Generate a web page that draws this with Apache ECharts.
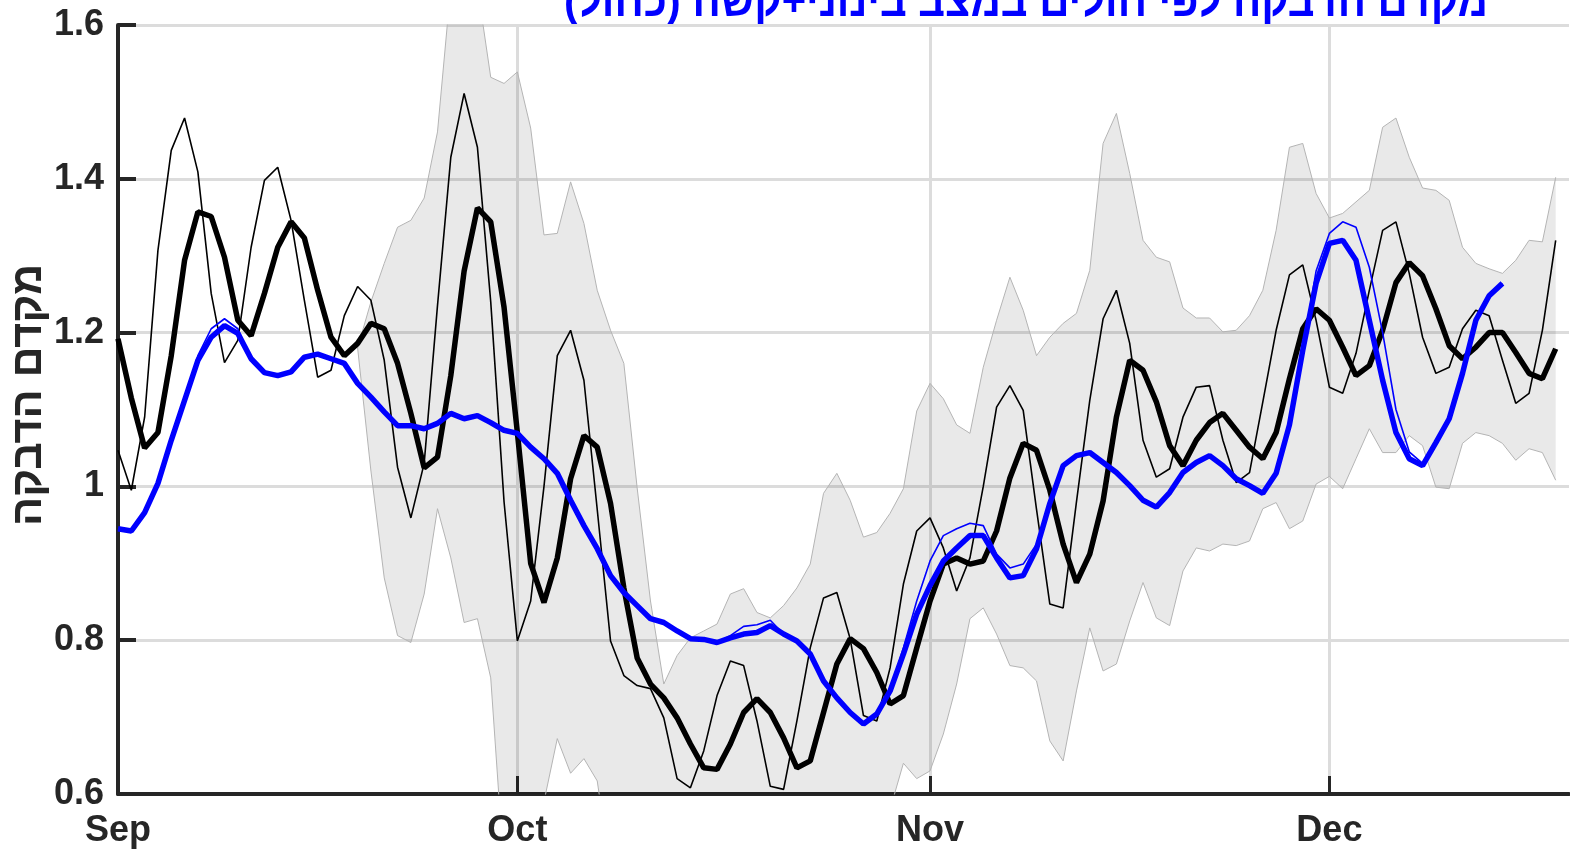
<!DOCTYPE html>
<html><head><meta charset="utf-8">
<script src="https://cdn.jsdelivr.net/npm/echarts@6/dist/echarts.min.js"></script>
<style>html,body{margin:0;padding:0;background:#fff}#c{width:1570px;height:849px}</style>
</head><body><div id="c"></div>
<script>
// ---- data (daily, Sep 1 .. Dec 18, 2020) ----
const startYear = 2020, startMonth = 8, startDay = 1; // Sep 1
const axisDays = 110; // Sep 1 .. Dec 19
const monthNames = ['Jan','Feb','Mar','Apr','May','Jun','Jul','Aug','Sep','Oct','Nov','Dec'];
const titleText = '\u200Fמקדם הדבקה לפי חולים במצב בינוני+קשה (כחול)\u200F';
const yAxisTitle = 'מקדם הדבקה';
const yMin = 0.6, yMax = 1.6, yStep = 0.2;

const smoothBlack = [
1.192,1.115,1.050,1.070,1.170,1.294,1.357,1.351,1.298,1.216,
1.196,1.251,1.311,1.344,1.323,1.255,1.194,1.170,1.186,1.212,
1.205,1.160,1.095,1.024,1.038,1.144,1.280,1.362,1.344,1.233,
1.070,0.900,0.849,0.907,1.010,1.066,1.051,0.978,0.868,0.777,
0.743,0.725,0.699,0.665,0.634,0.632,0.665,0.706,0.724,0.706,
0.673,0.634,0.643,0.706,0.769,0.802,0.789,0.758,0.717,0.728,
0.790,0.851,0.899,0.907,0.899,0.903,0.942,1.011,1.056,1.047,
0.995,0.925,0.875,0.912,0.981,1.090,1.164,1.151,1.110,1.053,
1.027,1.060,1.083,1.095,1.073,1.051,1.036,1.070,1.140,1.205,
1.231,1.216,1.181,1.144,1.157,1.203,1.265,1.291,1.274,1.231,
1.183,1.166,1.181,1.200,1.200,1.174,1.147,1.140,1.179];

const dailyBlack = [
1.047,0.995,1.090,1.307,1.437,1.479,1.409,1.251,1.161,1.190,
1.311,1.398,1.415,1.346,1.242,1.142,1.151,1.222,1.260,1.242,
1.164,1.025,0.959,1.030,1.235,1.428,1.511,1.441,1.240,0.980,
0.799,0.851,1.000,1.170,1.203,1.138,0.970,0.799,0.754,0.741,
0.737,0.699,0.620,0.608,0.656,0.728,0.773,0.767,0.695,0.610,
0.606,0.695,0.790,0.855,0.862,0.802,0.702,0.695,0.764,0.873,
0.942,0.959,0.920,0.864,0.907,1.000,1.103,1.131,1.099,0.970,
0.847,0.842,0.980,1.112,1.218,1.255,1.186,1.060,1.012,1.023,
1.090,1.129,1.131,1.060,1.005,1.018,1.110,1.203,1.275,1.288,
1.216,1.129,1.121,1.173,1.255,1.333,1.344,1.277,1.194,1.147,
1.155,1.205,1.229,1.222,1.164,1.108,1.121,1.203,1.320];

const smoothBlue = [
0.945,0.942,0.966,1.004,1.060,1.112,1.164,1.194,1.209,1.199,
1.166,1.148,1.144,1.149,1.168,1.172,1.166,1.160,1.134,1.116,
1.097,1.079,1.079,1.075,1.082,1.095,1.088,1.092,1.083,1.073,
1.069,1.051,1.036,1.017,0.982,0.949,0.919,0.884,0.862,0.845,
0.828,0.823,0.812,0.802,0.801,0.797,0.803,0.808,0.810,0.819,
0.808,0.799,0.782,0.747,0.725,0.706,0.691,0.704,0.734,0.782,
0.834,0.871,0.903,0.920,0.936,0.936,0.907,0.881,0.884,0.919,
0.978,1.027,1.040,1.044,1.031,1.018,1.001,0.982,0.973,0.992,
1.018,1.031,1.040,1.027,1.010,1.001,0.991,1.017,1.080,1.177,
1.264,1.316,1.320,1.294,1.216,1.138,1.070,1.036,1.027,1.057,
1.088,1.147,1.216,1.248,1.264];

const dailyBlue = [
0.945,0.942,0.966,1.004,1.060,1.112,1.170,1.205,1.218,1.205,
1.166,1.148,1.144,1.149,1.168,1.172,1.166,1.160,1.134,1.116,
1.097,1.079,1.079,1.075,1.082,1.095,1.088,1.092,1.083,1.073,
1.069,1.051,1.036,1.017,0.982,0.949,0.919,0.884,0.862,0.845,
0.828,0.823,0.812,0.802,0.801,0.797,0.806,0.818,0.820,0.826,
0.808,0.799,0.782,0.747,0.725,0.706,0.691,0.704,0.734,0.790,
0.851,0.903,0.936,0.945,0.952,0.949,0.912,0.894,0.899,0.925,
0.978,1.027,1.040,1.044,1.031,1.018,1.001,0.982,0.973,0.992,
1.018,1.031,1.040,1.027,1.010,1.001,0.991,1.017,1.080,1.177,
1.280,1.329,1.344,1.337,1.285,1.200,1.100,1.045,1.030,1.057,
1.088,1.147,1.216,1.248,1.264];

const bandUpper = [
null,null,null,null,null,null,null,null,null,null,
null,null,null,null,null,null,null,null,1.180,1.240,
1.290,1.337,1.346,1.375,1.461,1.650,1.650,1.650,1.532,1.524,
1.539,1.466,1.327,1.329,1.396,1.342,1.255,1.203,1.160,0.998,
0.851,0.743,0.780,0.803,0.812,0.821,0.860,0.867,0.836,0.829,
0.845,0.868,0.899,0.991,1.017,0.982,0.934,0.940,0.965,0.997,
1.098,1.134,1.114,1.080,1.069,1.155,1.216,1.272,1.229,1.170,
1.194,1.212,1.225,1.281,1.446,1.485,1.407,1.320,1.298,1.292,
1.232,1.219,1.219,1.201,1.203,1.222,1.255,1.333,1.441,1.446,
1.381,1.349,1.355,1.370,1.385,1.467,1.479,1.428,1.388,1.385,
1.372,1.311,1.290,1.283,1.277,1.294,1.320,1.318,1.402];

const bandLower = [
null,null,null,null,null,null,null,null,null,null,
null,null,null,null,null,null,null,null,1.180,1.020,
0.881,0.806,0.797,0.860,0.971,0.907,0.823,0.828,0.751,0.500,
0.450,0.450,0.590,0.672,0.627,0.646,0.617,0.500,0.500,0.500,
0.500,0.500,0.500,0.500,0.500,0.500,0.500,0.500,0.500,0.500,
0.500,0.500,0.500,0.500,0.500,0.500,0.500,0.500,0.580,0.640,
0.620,0.630,0.678,0.743,0.828,0.842,0.808,0.767,0.764,0.747,
0.669,0.643,0.734,0.816,0.760,0.769,0.825,0.875,0.829,0.819,
0.890,0.920,0.916,0.925,0.923,0.929,0.971,0.979,0.945,0.955,
1.003,1.013,0.997,1.036,1.075,1.044,1.044,1.066,1.053,0.999,
0.997,1.056,1.070,1.066,1.056,1.034,1.049,1.044,1.008];

// ---- build ----
const categories = [];
for (let i = 0; i < axisDays; i++) {
  const d = new Date(Date.UTC(startYear, startMonth, startDay + i));
  categories.push(d.getUTCFullYear() + '-' + (d.getUTCMonth() + 1) + '-' + d.getUTCDate());
}
const isMonthStart = (v) => v.split('-')[2] === '1';
const monthLabel = (v) => monthNames[parseInt(v.split('-')[1], 10) - 1];
const na = (a) => a.map(v => (v === null || v === undefined) ? '-' : v);
const bandSpan = bandUpper.map((u, i) => (u === null || bandLower[i] === null) ? '-' : +(u - bandLower[i]).toFixed(3));

const axisColor = '#262626';
const gridColor = '#dcdcdc';
const bandEdge = '#b4b4b4';

const chart = echarts.init(document.getElementById('c'), null, {renderer: 'canvas'});
chart.setOption({
  animation: false,
  backgroundColor: '#ffffff',
  grid: {left: 118, right: 1, top: 25, bottom: 55, containLabel: false, outerBoundsMode: 'none'},
  xAxis: {
    type: 'category', data: categories, boundaryGap: false,
    axisLine: {show: true, onZero: false, lineStyle: {color: axisColor, width: 4}},
    axisTick: {show: true, inside: true, length: 18, interval: (i, v) => isMonthStart(v), lineStyle: {color: axisColor, width: 3}},
    axisLabel: {show: true, interval: (i, v) => isMonthStart(v), formatter: monthLabel, color: axisColor,
      fontFamily: 'Liberation Sans, Arial, sans-serif', fontWeight: 'bold', fontSize: 36, margin: 19},
    splitLine: {show: true, interval: (i, v) => isMonthStart(v), lineStyle: {color: gridColor, width: 3}}
  },
  yAxis: {
    type: 'value', min: yMin, max: yMax, interval: yStep,
    axisLine: {show: true, lineStyle: {color: axisColor, width: 4}},
    axisTick: {show: true, inside: true, length: 18, lineStyle: {color: axisColor, width: 4}},
    axisLabel: {color: axisColor, fontFamily: 'Liberation Sans, Arial, sans-serif', fontWeight: 'bold', fontSize: 36, margin: 14,
      formatter: (v) => String(+v.toFixed(1))},
    splitLine: {show: true, lineStyle: {color: gridColor, width: 3}}
  },
  graphic: [{
    type: 'text', x: 1026, y: 4, scaleX: 0.95,
    style: {text: titleText, fill: '#0000ff', font: 'bold 44px "Liberation Sans", "DejaVu Sans", sans-serif',
      textAlign: 'center', textVerticalAlign: 'middle'}
  }, {
    type: 'text', x: 29, y: 395, rotation: Math.PI / 2,
    style: {text: yAxisTitle, fill: axisColor, font: 'bold 43px "Liberation Sans", "DejaVu Sans", sans-serif',
      textAlign: 'center', textVerticalAlign: 'middle'}
  }],
  series: [
    {name: 'bandLow', type: 'line', data: na(bandLower), stack: 'band', symbol: 'none', showSymbol: false,
      lineStyle: {color: bandEdge, width: 1}, z: 1},
    {name: 'bandSpan', type: 'line', data: bandSpan, stack: 'band', symbol: 'none', showSymbol: false,
      lineStyle: {color: bandEdge, width: 1}, areaStyle: {color: 'rgba(0,0,0,0.12)'}, z: 1},
    {name: 'dailyBlack', type: 'line', data: dailyBlack, symbol: 'none', showSymbol: false,
      lineStyle: {color: '#000000', width: 1.6}, z: 3},
    {name: 'smoothBlack', type: 'line', data: smoothBlack, symbol: 'none', showSymbol: false,
      lineStyle: {color: '#000000', width: 5.5}, z: 4},
    {name: 'dailyBlue', type: 'line', data: dailyBlue, symbol: 'none', showSymbol: false,
      lineStyle: {color: '#0000ff', width: 1.6}, z: 5},
    {name: 'smoothBlue', type: 'line', data: smoothBlue, symbol: 'none', showSymbol: false,
      lineStyle: {color: '#0000ff', width: 5.5}, z: 6}
  ]
});
</script></body></html>
